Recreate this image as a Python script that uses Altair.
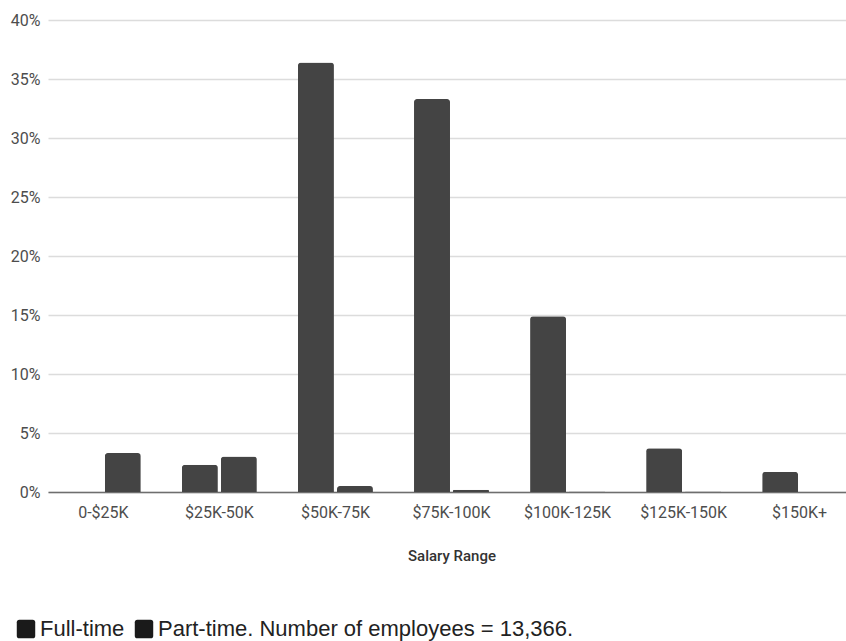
import altair as alt
import pandas as pd

# Salary bands on the x axis
salary_ranges = ["0-$25K", "$25K-50K", "$50K-75K", "$75K-100K",
                 "$100K-125K", "$125K-150K", "$150K+"]
# Share of employees (%) in each band
full_time = [0.0, 2.3, 36.4, 33.3, 14.9, 3.7, 1.7]
part_time = [3.3, 3.0, 0.5, 0.2, 0.05, 0.04, 0.0]
series = ["Full-time", "Part-time"]
y_ticks = [0, 5, 10, 15, 20, 25, 30, 35, 40]
note = "Number of employees = 13,366."

rows = []
for i, r in enumerate(salary_ranges):
    rows.append({"range": r, "series": series[0], "pct": full_time[i]})
    rows.append({"range": r, "series": series[1], "pct": part_time[i]})
df = pd.DataFrame(rows)

x_enc = alt.X(
    "range:N",
    sort=salary_ranges,
    scale=alt.Scale(range=[0, 807], paddingInner=0.354, paddingOuter=0.154),
    axis=alt.Axis(
        title="Salary Range",
        labelAngle=0,
        labelFont="Roboto",
        labelFontSize=16,
        labelColor="#4d4d4d",
        labelPadding=12,
        ticks=False,
        domain=True,
        domainColor="#6e6e6e",
        domainWidth=1.5,
        titleFont="Roboto",
        titleFontSize=15,
        titleFontWeight=500,
        titleColor="#333333",
        titlePadding=28,
        grid=False,
    ),
)

y_enc = alt.Y(
    "pct:Q",
    scale=alt.Scale(domain=[0, 40], nice=False),
    axis=alt.Axis(
        title=None,
        values=y_ticks,
        labelExpr="datum.value + '%'",
        labelFont="Roboto",
        labelFontSize=16,
        labelColor="#4d4d4d",
        labelPadding=8,
        ticks=False,
        domain=False,
        grid=True,
        gridColor="#dcdcdc",
        gridWidth=1.5,
    ),
)

bars = alt.Chart(df).mark_bar(
    cornerRadiusTopLeft=3, cornerRadiusTopRight=3
).encode(
    x=x_enc,
    y=y_enc,
    xOffset=alt.XOffset(
        "series:N",
        sort=series,
        scale=alt.Scale(paddingInner=0.077, paddingOuter=0),
    ),
    color=alt.value("#444444"),
)

rounded_square = ("M-1,-0.72Q-1,-1,-0.72,-1L0.72,-1Q1,-1,1,-0.72L1,0.72"
                  "Q1,1,0.72,1L-0.72,1Q-1,1,-1,0.72Z")

# Key drawn from the series scale only (no marks of its own)
key = alt.Chart(df).transform_filter("false").mark_point(filled=True).encode(
    fill=alt.Fill(
        "series:N",
        scale=alt.Scale(domain=series, range=["#1a1a1a", "#1a1a1a"]),
        legend=alt.Legend(
            title=None,
            orient="none",
            legendX=-33,
            legendY=598,
            direction="horizontal",
            symbolType=rounded_square,
            symbolSize=340,
            symbolStrokeWidth=0,
            symbolOpacity=1,
            labelFont="Liberation Sans",
            labelFontSize=22,
            labelColor="#222222",
            labelOffset=3,
            columnPadding=8,
            labelLimit=700,
            labelExpr=f"datum.label == 'Part-time' ? '\u00a0Part-time. {note}' : datum.label",
        ),
    ),
)

chart = alt.layer(bars, key).properties(
    width=798,
    height=472,
    background="white",
    autosize=alt.AutoSizeParams(type="none"),
    padding={"left": 48, "top": 20, "right": 0, "bottom": 149},
).configure_view(stroke=None)

chart.save("out.html", embed_options={"renderer": "svg", "actions": False})
